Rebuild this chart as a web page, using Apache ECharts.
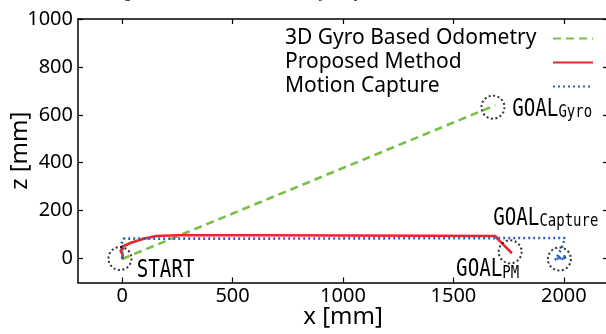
<!DOCTYPE html>
<html><head><meta charset="utf-8">
<script src="https://cdn.jsdelivr.net/npm/echarts@6/dist/echarts.min.js"></script>
<style>html,body{margin:0;padding:0;background:#fff}#c{width:606px;height:334px}</style>
</head><body><div id="c"></div>
<script>
// ---- data ----
const xTicks = [0, 500, 1000, 1500, 2000];
const yTicks = [0, 200, 400, 600, 800, 1000];
const seriesNames = ['3D Gyro Based Odometry', 'Proposed Method', 'Motion Capture'];
const gyroPath = [[0, -2], [1690, 640]];
const proposedPath = [[0, -3], [3, 15], [-8, 33], [5, 40], [-6, 47], [2, 52], [40, 66], [90, 81], [155, 94], [250, 97],
  [600, 97], [1000, 96], [1400, 95], [1690, 94], [1700, 82], [1765, 22]];
const capturePath = [[0, 0], [0, 40], [-3, 62], [6, 83], [500, 83], [1000, 84], [1500, 85], [2005, 86],
  [2000, 70], [1995, 55], [1988, 40], [1980, 25], [1970, 8], [1960, -4], [1990, 3], [2015, 4],
  [1985, 8], [1965, 0], [2010, -2], [1995, 12], [2012, 6]];
const markerCenters = [[-10, 0], [1679, 632], [1757, 28], [1980, -2]];
const annoMain = ['START', 'GOAL', 'GOAL', 'GOAL'];
const annoSub = ['', 'Gyro', 'Capture', 'PM'];
const annoAnchor = [[66, -50], [1766, 623], [1680, 168], [1512, -48]];
const titleText = 'Fig. 8 Estimated and measured trajectory';

const chart = echarts.init(document.getElementById('c'), null, {renderer: 'canvas'});
const axisFont = {fontFamily: 'Noto Sans', fontSize: 20, color: '#000', formatter: v => String(v)};
const axLine = {show: true, onZero: false, lineStyle: {color: '#000', width: 1.5}};
const tick = xs => ({show: true, inside: true, length: 5, customValues: xs, lineStyle: {color: '#000', width: 1.2}});
const option = {
  animation: false,
  backgroundColor: '#fff',
  grid: {left: 78, top: 19, right: -2, bottom: 51.5, containLabel: false, outerBoundsMode: 'none'},
  legend: {
    orient: 'vertical', left: 280, top: 23, align: 'right',
    itemWidth: 40, itemHeight: 14, itemGap: 3,
    data: seriesNames,
    itemStyle: {color: 'rgba(0,0,0,0)', borderWidth: 0, opacity: 0},
    formatter: '{a|{name}}',
    textStyle: {fontFamily: 'Noto Sans', fontSize: 21, color: '#000', lineHeight: 20,
      rich: {a: {width: 263, align: 'left', fontFamily: 'Noto Sans', fontSize: 21, color: '#000', lineHeight: 20}}}
  },
  xAxis: [{
    type: 'value', min: -200, max: 2200, position: 'bottom',
    axisLine: axLine, axisTick: tick(xTicks),
    axisLabel: Object.assign({customValues: xTicks, margin: 4}, axisFont),
    splitLine: {show: false},
    name: 'x [mm]', nameLocation: 'middle', nameGap: 23, nameMoveOverlap: false,
    nameTextStyle: {fontFamily: 'Noto Sans', fontSize: 24, color: '#000'}
  }, {
    type: 'value', min: -200, max: 2200, position: 'top',
    axisLine: axLine, axisTick: tick(xTicks),
    axisLabel: {show: false}, splitLine: {show: false}
  }],
  yAxis: [{
    type: 'value', min: -100, max: 1000, position: 'left',
    axisLine: axLine, axisTick: tick(yTicks),
    axisLabel: Object.assign({customValues: yTicks, margin: 5}, axisFont),
    splitLine: {show: false},
    name: 'z [mm]', nameLocation: 'middle', nameGap: 46, nameMoveOverlap: false,
    nameTextStyle: {fontFamily: 'Noto Sans', fontSize: 24, color: '#000'}
  }, {
    type: 'value', min: -100, max: 1000, position: 'right',
    axisLine: axLine, axisTick: tick(yTicks),
    axisLabel: {show: false}, splitLine: {show: false}
  }],
  series: [{
    name: seriesNames[0], type: 'line', data: gyroPath, symbol: 'none', showSymbol: false,
    lineStyle: {color: '#76c043', width: 2.6, type: [8, 5]}, itemStyle: {color: '#76c043'}, z: 2
  }, {
    name: seriesNames[1], type: 'line', data: proposedPath, symbol: 'none', showSymbol: false,
    lineStyle: {color: '#e8262b', width: 2.6}, itemStyle: {color: '#e8262b'}, z: 3
  }, {
    name: seriesNames[2], type: 'line', data: capturePath, symbol: 'none', showSymbol: false,
    lineStyle: {color: '#2f62bd', width: 2.6, type: [2, 3]}, itemStyle: {color: '#2f62bd'}, z: 4
  }, {
    name: 'markers', type: 'scatter', data: markerCenters, symbol: 'circle', symbolSize: 23,
    itemStyle: {color: 'rgba(0,0,0,0)', borderColor: '#000', borderWidth: 2, borderType: [2, 2.5]},
    silent: true, z: 5
  }]
};
chart.setOption(option);

const graphics = annoMain.map((t, i) => {
  const p = chart.convertToPixel({xAxisIndex: 0, yAxisIndex: 0}, annoAnchor[i]);
  const txt = annoSub[i] ? '{b|' + t + '}{s|' + annoSub[i] + '}' : '{b|' + t + '}';
  return {
    type: 'text', x: p[0], y: p[1], scaleX: 0.8, z: 10,
    style: {
      text: txt, align: 'left', verticalAlign: 'middle',
      rich: {
        b: {fontFamily: 'DejaVu Sans Mono', fontSize: 24, lineHeight: 24, fill: '#000', verticalAlign: 'bottom'},
        s: {fontFamily: 'DejaVu Sans Mono', fontSize: 17.5, lineHeight: 19, fill: '#000', verticalAlign: 'bottom'}
      }
    }
  };
});
graphics.push({
  type: 'text', x: 112, y: -6, z: 10,
  style: {text: titleText, font: 'italic 15px "Liberation Serif"', fill: '#000', align: 'left', verticalAlign: 'middle'}
});
chart.setOption({graphic: graphics});
</script>
</body></html>
